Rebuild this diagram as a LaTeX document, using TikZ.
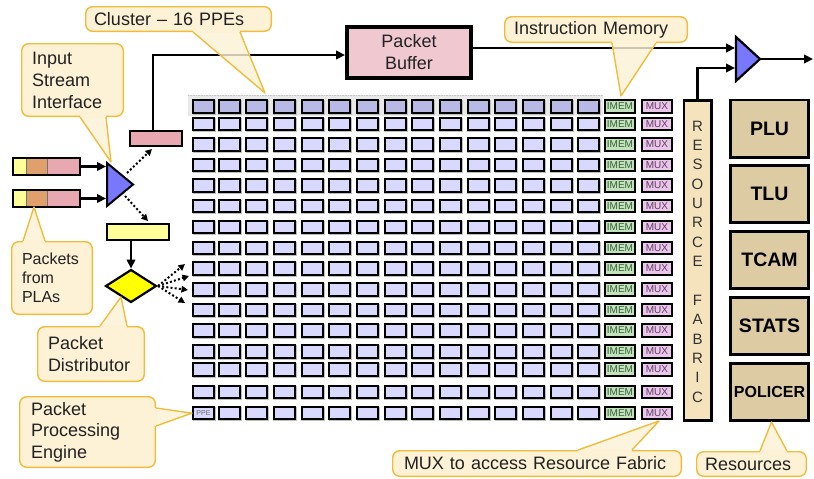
\documentclass[tikz,border=0pt]{standalone}
\usepackage{fontspec}
\setmainfont{Liberation Sans}
\usetikzlibrary{arrows.meta,calc}

\definecolor{calloutfill}{HTML}{FDF1D6}
\definecolor{calloutline}{HTML}{F0BC3C}
\definecolor{ppefill}{HTML}{D9D9FF}
\definecolor{ppetop}{HTML}{B9B9E6}
\definecolor{imemfill}{HTML}{C0E3BB}
\definecolor{imemtext}{HTML}{3C5E3C}
\definecolor{muxfill}{HTML}{EAC6EB}
\definecolor{muxtext}{HTML}{5E3F5E}
\definecolor{fabricfill}{HTML}{F4E3BD}
\definecolor{resfill}{HTML}{DDCBA3}
\definecolor{bufpink}{HTML}{EFC8D0}
\definecolor{pktpink}{HTML}{E7A8B1}
\definecolor{pktorange}{HTML}{E0A06E}
\definecolor{pktyellow}{HTML}{FFFF99}
\definecolor{trifill}{HTML}{7878FF}
\definecolor{distfill}{HTML}{FFFF00}
\definecolor{inkgray}{HTML}{222222}

% callout pointer: base point a, tip, base point b, unit step pointing into the box
\newcommand\coTail[4]{%
  \fill[calloutfill] ($#1+2*#4$) -- ($#1-1.2*#4$) -- ($#3-1.2*#4$) -- ($#3+2*#4$) -- cycle;
  \fill[calloutfill, fill opacity=.82] #1 -- #2 -- #3 -- cycle;
  \draw[calloutline, line width=1.4pt, line join=round] #1 -- #2 -- #3;
}

\begin{document}
\begin{tikzpicture}[x=1pt,y=-1pt,
  font=\fontsize{18}{22}\selectfont, text=inkgray,
  arr/.style={line width=2.4pt,-{Triangle[length=9pt,width=8.5pt]}},
  dotarr/.style={line width=2pt,dash pattern=on 2pt off 2.2pt,-{Triangle[length=6.5pt,width=6.5pt]}},
  cell/.style={draw=black,line width=2pt,fill=ppefill,minimum width=21pt,minimum height=12.3pt,inner sep=0pt},
  tag/.style={cell,minimum width=30pt,font=\fontsize{10}{10}\selectfont},
  callout/.style={draw=calloutline,fill=calloutfill,line width=1.4pt,rounded corners=7pt,inner sep=0pt,align=left},
  resbox/.style={draw=black,line width=2.6pt,fill=resfill,minimum width=78.4pt,minimum height=57.4pt,inner sep=0pt,text=black,font=\bfseries\fontsize{19.5}{22}\selectfont},
]
\useasboundingbox (0,0) rectangle (814,479);

% highlighted cluster band
\fill[gray!17] (188,95) rectangle (603,116);
\draw[gray!45,line width=.6pt,densely dotted] (188,95) -- (603,95);

% PPE array with instruction memories and muxes
\foreach \ry [count=\i] in {99.3,116.7,137.3,157.7,178.3,199,220,240.7,261.3,282.3,302.7,323.3,344.3,362.3,385,406}{
  \ifnum\i=1 \def\cellfill{ppetop}\else\def\cellfill{ppefill}\fi
  \foreach \cx [count=\j] in {192,217.5,245,272.5,300.5,328,356,383.5,411,438.5,466.5,494,521.5,549.5,577}{
    \fill[black!25] (\cx+0.5,\ry+0.8) rectangle (\cx+24,\ry+15.3);
    \node[cell,fill=\cellfill] (p-\i-\j) at (\cx+11.5,\ry+7.15) {};
  }
  \node[tag,fill=imemfill,text=imemtext] (im-\i) at (620,\ry+7.15) {IMEM};
  \node[tag,fill=muxfill,text=muxtext] (mx-\i) at (657,\ry+7.15) {MUX};
}
\node[font=\fontsize{7}{8}\selectfont,text=black!60] (ppe-label) at (p-16-1) {PPE};

% resource fabric
\node[draw=black,line width=2.6pt,fill=fabricfill,minimum width=27.4pt,minimum height=320.4pt,inner sep=0pt] (fab) at (697.5,260.5) {};
\foreach \ch [count=\k from 0] in {R,E,S,O,U,R,C,E}
  \node[font=\fontsize{15}{15}\selectfont,text=black!80] (fa-\k) at (697.5,126+19.36*\k) {\ch};
\foreach \ch [count=\k from 9] in {F,A,B,R,I,C}
  \node[font=\fontsize{15}{15}\selectfont,text=black!80] (fb-\k) at (697.5,126+19.36*\k) {\ch};

% shared resources
\node[resbox] (plu) at (769.5,128.5) {PLU};
\node[resbox] (tlu) at (769.5,194) {TLU};
\node[resbox] (tcam) at (769.5,260) {TCAM};
\node[resbox] (stats) at (769.5,326) {STATS};
\node[resbox,font=\bfseries\fontsize{16}{18}\selectfont] (pol) at (769.5,392) {POLICER};

% packet buffer
\node[draw=black,line width=4pt,fill=bufpink,minimum width=124pt,minimum height=51pt,inner sep=0pt,align=center] (pbuf) at (409,52.5) {Packet\\Buffer};

% incoming packets
\foreach \n/\y in {1/166.5,2/198.5}{
  \fill[pktyellow] (12,\y-9.5) rectangle (26,\y+9.5);
  \fill[pktorange] (26,\y-9.5) rectangle (47,\y+9.5);
  \fill[pktpink] (47,\y-9.5) rectangle (81,\y+9.5);
  \draw[black!55,line width=.8pt] (26,\y-9.5) -- (26,\y+9.5) (47,\y-9.5) -- (47,\y+9.5);
  \node[draw=black,line width=2pt,minimum width=67pt,minimum height=17pt,inner sep=0pt] (bar\n) at (46.5,\y) {};
}

% input stream interface
\draw[fill=trifill,line width=2pt,line join=miter] (107,163) -- (133,184.5) -- (107,206) -- cycle;
\coordinate (ti-in1) at (106,166.5);
\coordinate (ti-in2) at (106,198.5);
\coordinate (ti-up) at (127,173);
\coordinate (ti-dn) at (125,196);

\node[draw=black,line width=1.8pt,fill=pktpink,minimum width=52.2pt,minimum height=15.2pt,inner sep=0pt] (pk) at (156,138.5) {};
\node[draw=black,line width=1.8pt,fill=pktyellow,minimum width=62.2pt,minimum height=16.2pt,inner sep=0pt] (yb) at (138,232) {};

% packet distributor
\draw[fill=distfill,line width=2.2pt,line join=miter] (106,286) -- (131,270) -- (156,286) -- (131,302) -- cycle;
\coordinate (dia-n) at (131,268.5);
\coordinate (dia-e) at (158,286);
\coordinate (fan1) at (185,264);
\coordinate (fan2) at (189,276);
\coordinate (fan3) at (188,290);
\coordinate (fan4) at (185,303);

% output merge
\draw[fill=trifill,line width=2.2pt,line join=miter] (736,37) -- (760,59) -- (736,81) -- cycle;
\coordinate (tr-in1) at (735,48);
\coordinate (tr-in2) at (735,68);
\coordinate (tr-out) at (761,59);
\coordinate (out-end) at (813,59);

% connectors
\draw[arr] (bar1.east) -- (ti-in1);
\draw[arr] (bar2.east) -- (ti-in2);
\draw[dotarr] (ti-up) -- ([xshift=-4pt,yshift=-2pt]pk.south);
\draw[dotarr] (ti-dn) -- ([xshift=10pt,yshift=2pt]yb.north);
\draw[arr] (yb.south -| dia-n) -- (dia-n);
\foreach \f in {fan1,fan2,fan3,fan4}
  \draw[dotarr] (dia-e) -- (\f);
\draw[arr] ([xshift=-3pt]pk.north) |- ([yshift=-2.5pt]pbuf.west);
\draw[arr] ([yshift=4.5pt]pbuf.east) -- (tr-in1);
\draw[arr] (fab.north) |- (tr-in2);
\draw[arr] (tr-out) -- (out-end);

% callouts
\node[callout,minimum width=185.6pt,minimum height=24.6pt,text width=169pt] (co-cluster) at (178.5,19) {Cluster -- 16 PPEs};
\coTail{(193,32)}{(265,93)}{(240,32)}{(0,-1)}

\node[callout,minimum width=101.6pt,minimum height=72.6pt,text width=81pt] (co-isi) at (72.5,80) {Input\\Stream\\Interface};
\coTail{(80,117)}{(111,162)}{(106,117)}{(0,-1)}

\node[callout,font=\fontsize{16}{19}\selectfont,minimum width=80.6pt,minimum height=72.6pt,text width=60pt] (co-pla) at (52,278) {Packets\\from\\PLAs};
\coTail{(23,241)}{(34,207)}{(45,241)}{(0,1)}

\node[callout,minimum width=106.6pt,minimum height=54.6pt,text width=86pt] (co-dist) at (91,354) {Packet\\Distributor};
\coTail{(100,326)}{(121,297)}{(127,326)}{(0,1)}

\node[callout,font=\fontsize{18}{21.5}\selectfont,minimum width=135.6pt,minimum height=70.6pt,text width=113pt] (co-ppe) at (87.5,432) {Packet\\Processing\\Engine};
\coTail{(156,408)}{(p-16-1.west)}{(156,426)}{(-1,0)}

\node[callout,minimum width=182.6pt,minimum height=25.6pt,text width=164pt] (co-im) at (596,29.5) {Instruction Memory};
\coTail{(612,43)}{(621,96)}{(656,43)}{(0,-1)}

\node[callout,minimum width=288.6pt,minimum height=25.6pt,text width=266pt] (co-mux) at (537,463.5) {MUX to access Resource Fabric};
\coTail{(578,450)}{(659,421)}{(632,450)}{(0,1)}

\node[callout,minimum width=109.6pt,minimum height=24.6pt,text width=93pt] (co-res) at (751.5,464) {Resources};
\coTail{(760,451)}{([xshift=2pt]pol.south)}{(787,451)}{(0,1)}

\end{tikzpicture}
\end{document}
